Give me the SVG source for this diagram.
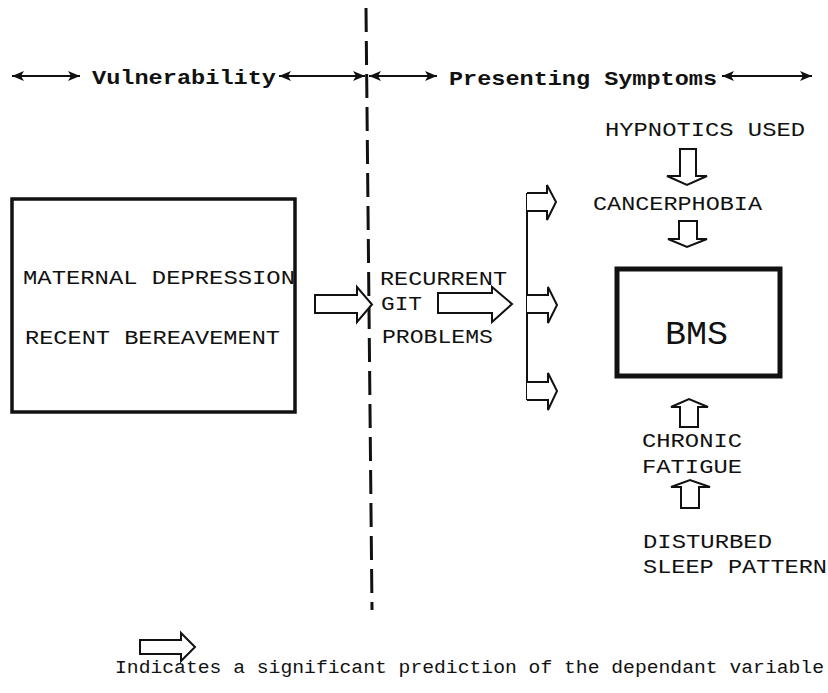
<svg xmlns="http://www.w3.org/2000/svg" width="828" height="693" viewBox="0 0 828 693">
<style>
.t{font-family:"Courier New","Liberation Mono",monospace;font-size:21px;fill:#111}
.b{font-family:"Courier New","Liberation Mono",monospace;font-size:21px;font-weight:bold;fill:#111}
.fat{fill:#fff;stroke:#111;stroke-width:2;stroke-linejoin:miter}
.ln{stroke:#111;stroke-width:2;fill:none}
.box{fill:#fff;stroke:#111}
</style>
<defs>
<marker id="ah" viewBox="0 0 12 10" refX="12" refY="5" markerWidth="12" markerHeight="10" markerUnits="userSpaceOnUse" orient="auto-start-reverse">
<path d="M0,0 L12,5 L0,10 L3,5 Z" fill="#111"/>
</marker>
</defs>
<rect width="828" height="693" fill="#fff"/>
<g id="headers">
<text class="b" x="92" y="84" textLength="184" lengthAdjust="spacingAndGlyphs">Vulnerability</text>
<text class="b" x="449" y="85" textLength="268" lengthAdjust="spacingAndGlyphs">Presenting Symptoms</text>
</g>
<g id="connectors">
<line class="ln" x1="12" y1="76" x2="80" y2="76" marker-start="url(#ah)" marker-end="url(#ah)"/>
<line class="ln" x1="279" y1="76" x2="365" y2="76" marker-start="url(#ah)" marker-end="url(#ah)"/>
<line class="ln" x1="369" y1="76" x2="437" y2="76" marker-start="url(#ah)" marker-end="url(#ah)"/>
<line class="ln" x1="722" y1="76" x2="812" y2="76" marker-start="url(#ah)" marker-end="url(#ah)"/>
<line x1="366" y1="8" x2="372" y2="610" stroke="#111" stroke-width="3" stroke-dasharray="24 9"/>
<path class="fat" d="M315,295 H357 V287 L372,304.5 L357,322 V313 H315 Z"/>
<path class="fat" d="M438,293 H492 V287 L512,304 L492,322 V313 H438 Z"/>
<line class="ln" x1="527" y1="193" x2="527" y2="400"/>
<path class="fat" d="M527,193 H547 V185 L556,202 L547,220 V211 H527"/>
<path class="fat" d="M527,295 H548 V287 L557,305 L548,323 V313 H527"/>
<path class="fat" d="M527,382 H548 V373 L557,391 L548,410 V400 H527"/>
<path class="fat" d="M680,149 H696 V176 H707 L687,185 L667,176 H680 Z"/>
<path class="fat" d="M679,221 H697 V239 H707 L687,247 L668,239 H679 Z"/>
<path class="fat" d="M680,427 H698 V407 H708 L689,399 L671,407 H680 Z"/>
<path class="fat" d="M681,508 H699 V487 H710 L690,480 L671,487 H681 Z"/>
</g>
<g id="vulnerability-box">
<rect class="box" x="12" y="199" width="283" height="213" stroke-width="3.5"/>
<text class="t" x="23" y="284" textLength="272" lengthAdjust="spacingAndGlyphs">MATERNAL DEPRESSION</text>
<text class="t" x="25" y="344" textLength="255" lengthAdjust="spacingAndGlyphs">RECENT BEREAVEMENT</text>
</g>
<g id="git">
<text class="t" x="380" y="285" textLength="127" lengthAdjust="spacingAndGlyphs">RECURRENT</text>
<text class="t" x="381" y="310" textLength="41" lengthAdjust="spacingAndGlyphs">GIT</text>
<text class="t" x="382" y="343" textLength="111" lengthAdjust="spacingAndGlyphs">PROBLEMS</text>
</g>
<g id="hypnotics">
<text class="t" x="605" y="136" textLength="200" lengthAdjust="spacingAndGlyphs">HYPNOTICS USED</text>
</g>
<g id="cancerphobia">
<text class="t" x="593" y="210" textLength="169" lengthAdjust="spacingAndGlyphs">CANCERPHOBIA</text>
</g>
<g id="bms">
<rect class="box" x="617" y="269" width="163" height="107" stroke-width="5"/>
<text class="t" x="665" y="344" style="font-size:33px" textLength="63" lengthAdjust="spacingAndGlyphs">BMS</text>
</g>
<g id="fatigue">
<text class="t" x="642" y="447" textLength="100" lengthAdjust="spacingAndGlyphs">CHRONIC</text>
<text class="t" x="642" y="473" textLength="100" lengthAdjust="spacingAndGlyphs">FATIGUE</text>
</g>
<g id="sleep">
<text class="t" x="643" y="548" textLength="129" lengthAdjust="spacingAndGlyphs">DISTURBED</text>
<text class="t" x="643" y="573" textLength="184" lengthAdjust="spacingAndGlyphs">SLEEP PATTERN</text>
</g>
<g id="legend">
<path class="fat" d="M140,640 H181 V633 L195,647 L181,661 V654 H140 Z"/>
<text class="t" x="115" y="673" style="font-size:19px" textLength="709" lengthAdjust="spacingAndGlyphs">Indicates a significant prediction of the dependant variable</text>
</g>
</svg>
